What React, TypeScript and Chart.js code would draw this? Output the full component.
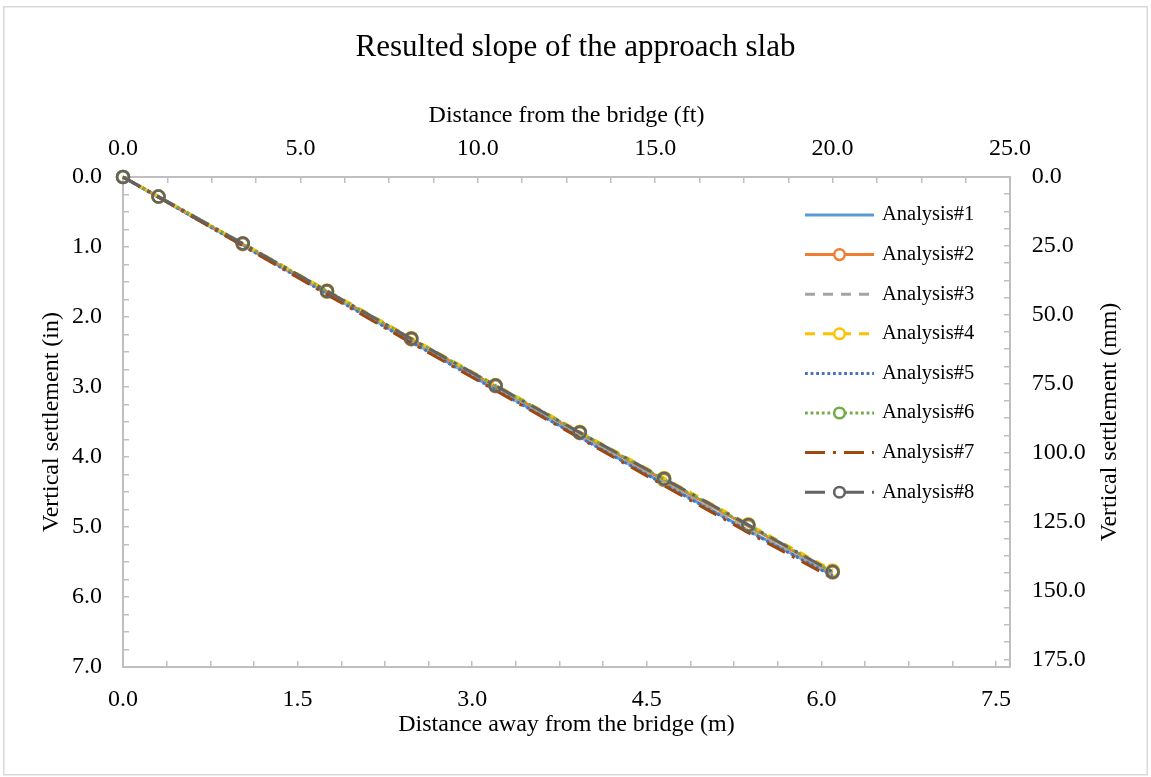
import React, { useEffect, useRef } from "react";
import { Chart, registerables } from "chart.js";

Chart.register(...registerables);

// ---------- data ----------
const distanceFt = [0, 1, 3.375, 5.75, 8.125, 10.5, 12.875, 15.25, 17.625, 20];

const analysis1 = [0, 0.29, 0.97, 1.66, 2.35, 3.03, 3.71, 4.38, 5.05, 5.69];
const analysis2 = [0, 0.28, 0.96, 1.64, 2.32, 2.99, 3.66, 4.33, 4.99, 5.65];
const analysis3 = [0, 0.29, 0.97, 1.66, 2.34, 3.02, 3.7, 4.37, 5.04, 5.68];
const analysis4 = [0, 0.28, 0.95, 1.62, 2.3, 2.97, 3.64, 4.3, 4.96, 5.62];
const analysis5 = [0, 0.29, 0.98, 1.67, 2.36, 3.04, 3.72, 4.39, 5.06, 5.7];
const analysis6 = [0, 0.28, 0.95, 1.63, 2.31, 2.98, 3.65, 4.32, 4.98, 5.64];
const analysis7 = [0, 0.29, 0.98, 1.68, 2.37, 3.05, 3.73, 4.41, 5.08, 5.73];
const analysis8 = [0, 0.28, 0.95, 1.63, 2.31, 2.98, 3.65, 4.31, 4.97, 5.64];

const seriesNames = [
  "Analysis#1",
  "Analysis#2",
  "Analysis#3",
  "Analysis#4",
  "Analysis#5",
  "Analysis#6",
  "Analysis#7",
  "Analysis#8",
];
const seriesValues = [analysis1, analysis2, analysis3, analysis4, analysis5, analysis6, analysis7, analysis8];

const topTicksFt = [0, 5, 10, 15, 20, 25];
const bottomTicksM = [0, 1.5, 3, 4.5, 6, 7.5];
const leftTicksIn = [0, 1, 2, 3, 4, 5, 6, 7];
const rightTicksMm = [0, 25, 50, 75, 100, 125, 150, 175];

const rightAxisTitle = "Vertical settlement (mm)";

const FT_TO_M = 0.3048;
const IN_TO_MM = 25.4;

// ---------- styles ----------
const colors = ["#5B9BD5", "#ED7D31", "#A5A5A5", "#FFC000", "#4472C4", "#70AD47", "#9E480E", "#636363"];
const dashes: number[][] = [[], [], [10, 8], [10, 8], [2.8, 2.8], [2.8, 2.8], [20, 8, 3, 8], [20, 8, 3, 8]];
const markers = [false, true, false, true, false, true, false, true];

const FONT = "'Liberation Serif', 'Times New Roman', serif";
const AXIS_GRAY = "#BFBFBF";

function withMinors(majors: number[]) {
  const out: number[] = [];
  for (let i = 0; i < majors.length; i++) {
    out.push(majors[i]);
    if (i < majors.length - 1) {
      const step = (majors[i + 1] - majors[i]) / 4;
      for (let k = 1; k < 4; k++) out.push(majors[i] + step * k);
    }
  }
  return out;
}

function isMajor(v: number, majors: number[]) {
  return majors.some((m) => Math.abs(m - v) < 1e-9);
}

const innerGrid = {
  display: true,
  drawOnChartArea: false,
  drawTicks: true,
  tickLength: -6,
  color: AXIS_GRAY,
  lineWidth: 1.5,
};

const border = { display: true, color: AXIS_GRAY, width: 2 };

const legendPlugin = {
  id: "insideLegend",
  afterDraw(chart: any) {
    const { ctx, chartArea } = chart;
    const x0 = chartArea.right - 205;
    const y0 = chartArea.top + 38;
    const rowH = 39.6;
    chart.data.datasets.forEach((ds: any, i: number) => {
      const y = y0 + i * rowH;
      ctx.save();
      ctx.strokeStyle = ds.borderColor;
      ctx.lineWidth = ds.borderWidth;
      ctx.lineCap = "butt";
      ctx.setLineDash(ds.borderDash || []);
      ctx.beginPath();
      ctx.moveTo(x0, y);
      ctx.lineTo(x0 + 69, y);
      ctx.stroke();
      if (ds.pointRadius > 0) {
        ctx.setLineDash([]);
        ctx.beginPath();
        ctx.arc(x0 + 34.5, y, 5.3, 0, Math.PI * 2);
        ctx.fillStyle = "#ffffff";
        ctx.fill();
        ctx.lineWidth = ds.pointBorderWidth;
        ctx.strokeStyle = ds.pointBorderColor;
        ctx.stroke();
      }
      ctx.fillStyle = "#000000";
      ctx.font = `20.5px ${FONT}`;
      ctx.textBaseline = "middle";
      ctx.textAlign = "left";
      ctx.fillText(ds.label, x0 + 77, y);
      ctx.restore();
    });
  },
};

// right axis title reads bottom-to-top (like the left one)
const rightTitlePlugin = {
  id: "rightAxisTitle",
  afterDraw(chart: any) {
    const s = chart.scales.yRight;
    if (!s) return;
    const { ctx } = chart;
    ctx.save();
    ctx.translate(s.right - 41, (s.top + s.bottom) / 2);
    ctx.rotate(-Math.PI / 2);
    ctx.fillStyle = "#000000";
    ctx.font = `24px ${FONT}`;
    ctx.textAlign = "center";
    ctx.textBaseline = "middle";
    ctx.fillText(rightAxisTitle, 0, 0);
    ctx.restore();
  },
};

const frameBorderPlugin = {
  id: "frameBorder",
  beforeDraw(chart: any) {
    const { ctx, width, height } = chart;
    ctx.save();
    ctx.fillStyle = "#ffffff";
    ctx.fillRect(0, 0, width, height);
    ctx.strokeStyle = "#D9D9D9";
    ctx.lineWidth = 1.5;
    ctx.strokeRect(3.75, 6.75, width - 7.5, height - 9);
    ctx.restore();
  },
};

export default function App() {
  const canvasRef = useRef<HTMLCanvasElement | null>(null);

  useEffect(() => {
    document.body.style.margin = "0";
    const canvas = canvasRef.current;
    if (!canvas) return;

    const datasets = seriesValues.map((vals, i) => ({
      label: seriesNames[i],
      data: distanceFt.map((x, j) => ({ x, y: vals[j] })),
      xAxisID: "xTop",
      yAxisID: "yLeft",
      borderColor: colors[i],
      backgroundColor: colors[i],
      borderWidth: 3,
      borderDash: dashes[i],
      borderCapStyle: "butt",
      tension: 0,
      fill: false,
      pointRadius: markers[i] ? 6 : 0,
      pointHoverRadius: markers[i] ? 6 : 0,
      pointBorderWidth: 2.5,
      pointBorderColor: colors[i],
      pointBackgroundColor: "rgba(255,255,255,0)",
      pointStyle: "circle",
      clip: false,
      order: seriesNames.length - i,
    }));

    const tickFont = { family: FONT, size: 24 };
    const titleFont = { family: FONT, size: 24 };

    const chart = new Chart(canvas, {
      type: "line",
      data: { datasets } as any,
      options: {
        animation: false,
        responsive: false,
        devicePixelRatio: 1,
        layout: { padding: 0 },
        plugins: {
          legend: { display: false },
          tooltip: { enabled: false },
          title: {
            display: true,
            text: "Resulted slope of the approach slab",
            color: "#000000",
            font: { family: FONT, size: 31, weight: "normal" },
            padding: { top: 29, bottom: 10 },
          },
        },
        scales: {
          xTop: {
            type: "linear",
            position: "top",
            min: 0,
            max: 25,
            grid: innerGrid,
            border,
            afterBuildTicks: (s: any) => {
              s.ticks = withMinors(topTicksFt).map((value) => ({ value }));
            },
            afterFit: (s: any) => {
              s.height = 100.8;
            },
            ticks: {
              autoSkip: false,
              maxRotation: 0,
              padding: 19.6,
              color: "#000000",
              font: tickFont,
              callback: (v: any) => (isMajor(Number(v), topTicksFt) ? Number(v).toFixed(1) : ""),
            },
            title: {
              display: true,
              text: "Distance from the bridge (ft)",
              color: "#000000",
              font: titleFont,
              padding: { top: 25.4, bottom: 0 },
            },
          },
          xBottom: {
            type: "linear",
            position: "bottom",
            display: true,
            min: 0,
            max: 25 * FT_TO_M,
            grid: innerGrid,
            border,
            afterBuildTicks: (s: any) => {
              s.ticks = withMinors(bottomTicksM).map((value) => ({ value }));
            },
            afterFit: (s: any) => {
              s.height = 110;
            },
            ticks: {
              autoSkip: false,
              maxRotation: 0,
              padding: 24.6,
              color: "#000000",
              font: tickFont,
              callback: (v: any) => (isMajor(Number(v), bottomTicksM) ? Number(v).toFixed(1) : ""),
            },
            title: {
              display: true,
              text: "Distance away from the bridge (m)",
              color: "#000000",
              font: titleFont,
              padding: { top: 0, bottom: 37.6 },
            },
          },
          yLeft: {
            type: "linear",
            position: "left",
            reverse: true,
            min: 0,
            max: 7,
            grid: innerGrid,
            border,
            afterBuildTicks: (s: any) => {
              s.ticks = withMinors(leftTicksIn).map((value) => ({ value }));
            },
            afterFit: (s: any) => {
              s.width = 123;
            },
            ticks: {
              autoSkip: false,
              padding: 27,
              color: "#000000",
              font: tickFont,
              callback: (v: any) => (isMajor(Number(v), leftTicksIn) ? Number(v).toFixed(1) : ""),
            },
            title: {
              display: true,
              text: "Vertical settlement (in)",
              color: "#000000",
              font: titleFont,
              padding: { top: 37.6, bottom: 0 },
            },
          },
          yRight: {
            type: "linear",
            position: "right",
            display: true,
            reverse: true,
            min: 0,
            max: 7 * IN_TO_MM,
            grid: innerGrid,
            border,
            afterBuildTicks: (s: any) => {
              s.ticks = withMinors(rightTicksMm).map((value) => ({ value }));
            },
            afterFit: (s: any) => {
              s.width = 141;
            },
            ticks: {
              autoSkip: false,
              padding: 27.7,
              color: "#000000",
              font: tickFont,
              callback: (v: any) => (isMajor(Number(v), rightTicksMm) ? Number(v).toFixed(1) : ""),
            },
            title: { display: false },
          },
        },
      } as any,
      plugins: [frameBorderPlugin, legendPlugin, rightTitlePlugin],
    });

    return () => {
      chart.destroy();
    };
  }, []);

  return (
    <canvas
      ref={canvasRef}
      width={1151}
      height={777}
      style={{ display: "block", width: "1151px", height: "777px" }}
    />
  );
}
